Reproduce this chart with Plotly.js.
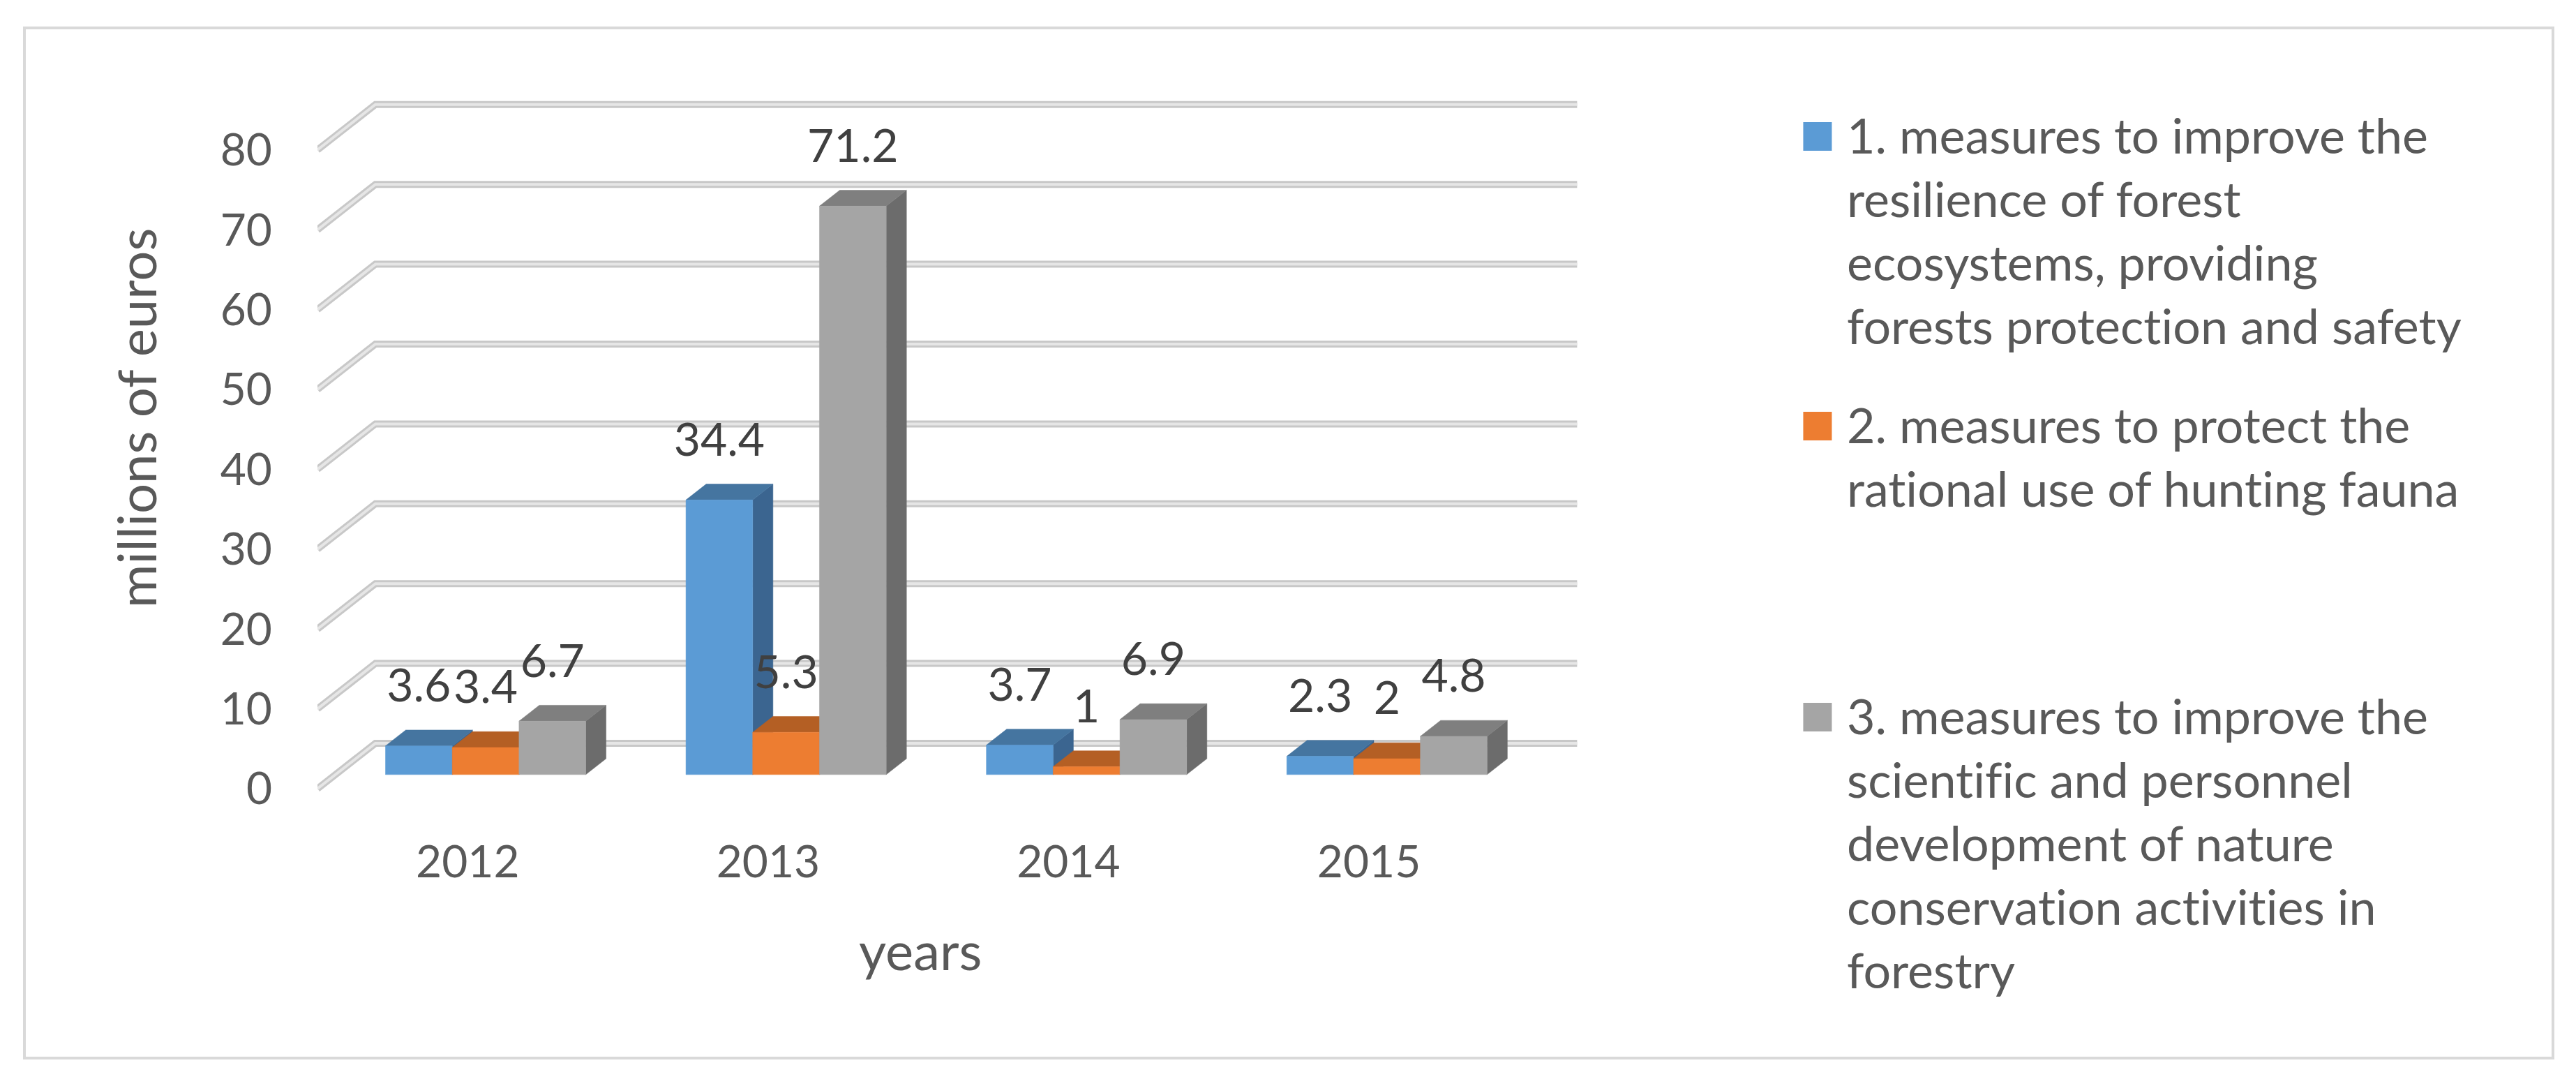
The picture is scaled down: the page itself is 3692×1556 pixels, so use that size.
<!DOCTYPE html>
<html>
<head>
<meta charset="utf-8">
<script src="https://cdn.plot.ly/plotly-3.0.1.min.js"></script>
<style>
  body { margin: 0; background: #fff; }
  #figure { width: 3692px; height: 1556px; }
  #figure text { font-variant-ligatures: none; font-feature-settings: "liga" 0, "clig" 0; }
  #frame {
    position: absolute; left: 33px; top: 38px;
    width: 3620px; height: 1472px;
    border: 4px solid #d9d9d9; pointer-events: none;
  }
</style>
</head>
<body>
<div id="figure"></div>
<div id="frame"></div>
<script>
FIGURE = document.getElementById('figure')

// data
const years = ['2012', '2013', '2014', '2015']
const resilience = [3.6, 34.4, 3.7, 2.3]
const hunting = [3.4, 5.3, 1, 2]
const science = [6.7, 71.2, 6.9, 4.8]
const yTicks = [0, 10, 20, 30, 40, 50, 60, 70, 80]

const seriesNames = [
    '1. measures to improve the<br>resilience of forest<br>ecosystems, providing<br>forests protection and safety',
    '2. measures to protect the<br>rational use of hunting fauna',
    '3. measures to improve the<br>scientific and personnel<br>development of nature<br>conservation activities in<br>forestry'
]
const frontColours = ['#5B9BD5', '#ED7D31', '#A5A5A5']
const topColours = ['#4575A0', '#B45F24', '#7F7F7F']
const sideColours = ['#3B6590', '#A2561F', '#6C6C6C']

// page geometry (pixels)
const W = 3692, H = 1556
const ml = 455, mt = 140, plotBottom = 1160
const pxPerUnit = 430.5, pxPerVal = 11.44, zeroPx = 1130
const xRange = [-0.5, 3.75]
const plotW = (xRange[1] - xRange[0]) * pxPerUnit
const plotH = plotBottom - mt
const mr = W - ml - plotW
const mb = H - plotBottom
const yRange = [-(plotBottom - zeroPx) / pxPerVal, (zeroPx - mt) / pxPerVal]

// oblique depth offsets, in axis units
const DX = 83 / pxPerUnit
const DY = 65 / pxPerVal
const d0 = 0.31, d1 = 0.66
const groupWidth = 2 / 3
const barW = groupWidth / 3
const labelLift = 80 / pxPerVal

const FONT = 'Lato, "Open Sans", sans-serif'

function xp(px) { return (px - ml) / plotW }
function yp(py) { return (plotBottom - py) / plotH }

function gridTraces() {
    let xs = [], ys = []
    for (let v of yTicks) {
        xs.push(-0.5, -0.5 + DX, years.length - 0.5 + DX, null)
        ys.push(v, v + DY, v + DY, null)
    }
    let outer = {x: xs, y: ys, mode: 'lines', line: {color: '#c8c8c8', width: 10},
        hoverinfo: 'skip', showlegend: false, cliponaxis: false}
    let inner = {x: xs, y: ys, mode: 'lines', line: {color: '#e6e6e6', width: 4},
        hoverinfo: 'skip', showlegend: false, cliponaxis: false}
    return [outer, inner]
}

function faceTrace(xs, ys, colour) {
    return {x: xs, y: ys, mode: 'lines', fill: 'toself', fillcolor: colour,
        line: {color: colour, width: 0.5}, hoverinfo: 'skip', showlegend: false}
}

function barTraces(values, j) {
    let fx = [], fy = [], tx = [], ty = [], sx = [], sy = []
    for (let i = 0; i < values.length; i++) {
        let v = values[i]
        let xl = i - groupWidth / 2 + j * barW
        let xr = xl + barW
        fx.push(xl + d0 * DX, xr + d0 * DX, xr + d0 * DX, xl + d0 * DX, xl + d0 * DX, null)
        fy.push(d0 * DY, d0 * DY, v + d0 * DY, v + d0 * DY, d0 * DY, null)
        tx.push(xl + d0 * DX, xr + d0 * DX, xr + d1 * DX, xl + d1 * DX, xl + d0 * DX, null)
        ty.push(v + d0 * DY, v + d0 * DY, v + d1 * DY, v + d1 * DY, v + d0 * DY, null)
        sx.push(xr + d0 * DX, xr + d1 * DX, xr + d1 * DX, xr + d0 * DX, xr + d0 * DX, null)
        sy.push(d0 * DY, d1 * DY, v + d1 * DY, v + d0 * DY, d0 * DY, null)
    }
    return [faceTrace(sx, sy, sideColours[j]), faceTrace(tx, ty, topColours[j]),
        faceTrace(fx, fy, frontColours[j])]
}

function labelTrace(values, j) {
    let xs = values.map((v, i) => i - groupWidth / 2 + (j + 0.5) * barW + d0 * DX)
    let ys = values.map(v => v + d0 * DY + labelLift)
    return {x: xs, y: ys, mode: 'text', text: values.map(v => String(v)),
        textposition: 'middle center', textfont: {family: FONT, size: 66, color: '#404040'},
        hoverinfo: 'skip', showlegend: false, cliponaxis: false}
}

let allSeries = [resilience, hunting, science]
let traces = gridTraces()
allSeries.forEach((vals, j) => { traces = traces.concat(barTraces(vals, j)) })
allSeries.forEach((vals, j) => { traces.push(labelTrace(vals, j)) })

// legend drawn by hand so the swatches can be large
const legendTop = [195, 610, 1027]
let shapes = []
let annotations = []
seriesNames.forEach((name, j) => {
    shapes.push({type: 'rect', xref: 'paper', yref: 'paper',
        x0: xp(2584), x1: xp(2625), y0: yp(legendTop[j] - 20), y1: yp(legendTop[j] + 21),
        fillcolor: frontColours[j], line: {width: 0}})
    annotations.push({xref: 'paper', yref: 'paper', x: xp(2645), y: yp(legendTop[j] - 46),
        xanchor: 'left', yanchor: 'top', align: 'left', showarrow: false, text: name,
        font: {family: FONT, size: 70, color: '#595959'}})
})
annotations.push({xref: 'paper', yref: 'paper', x: xp(194), y: yp(599),
    xanchor: 'center', yanchor: 'middle', textangle: -90, showarrow: false,
    text: 'millions of euros', font: {family: FONT, size: 76, color: '#595959'}})
annotations.push({xref: 'paper', yref: 'paper', x: xp(1319), y: yp(1360),
    xanchor: 'center', yanchor: 'middle', showarrow: false,
    text: 'years', font: {family: FONT, size: 76, color: '#595959'}})

let layout = {
    width: W, height: H,
    margin: {l: ml, r: mr, t: mt, b: mb, pad: 0},
    paper_bgcolor: 'rgba(0,0,0,0)', plot_bgcolor: 'rgba(0,0,0,0)',
    showlegend: false,
    xaxis: {range: xRange, showgrid: false, zeroline: false, showline: false,
        tickmode: 'array', tickvals: years.map((y, i) => i), ticktext: years,
        ticks: '', ticklabelstandoff: 32,
        tickfont: {family: FONT, size: 64, color: '#595959'}},
    yaxis: {range: yRange, showgrid: false, zeroline: false, showline: false,
        tickmode: 'array', tickvals: yTicks, ticks: '', ticklabelstandoff: 64,
        tickfont: {family: FONT, size: 64, color: '#595959'}},
    shapes: shapes,
    annotations: annotations
}

Plotly.newPlot(FIGURE, traces, layout, {displayModeBar: false, staticPlot: true})
</script>
</body>
</html>
